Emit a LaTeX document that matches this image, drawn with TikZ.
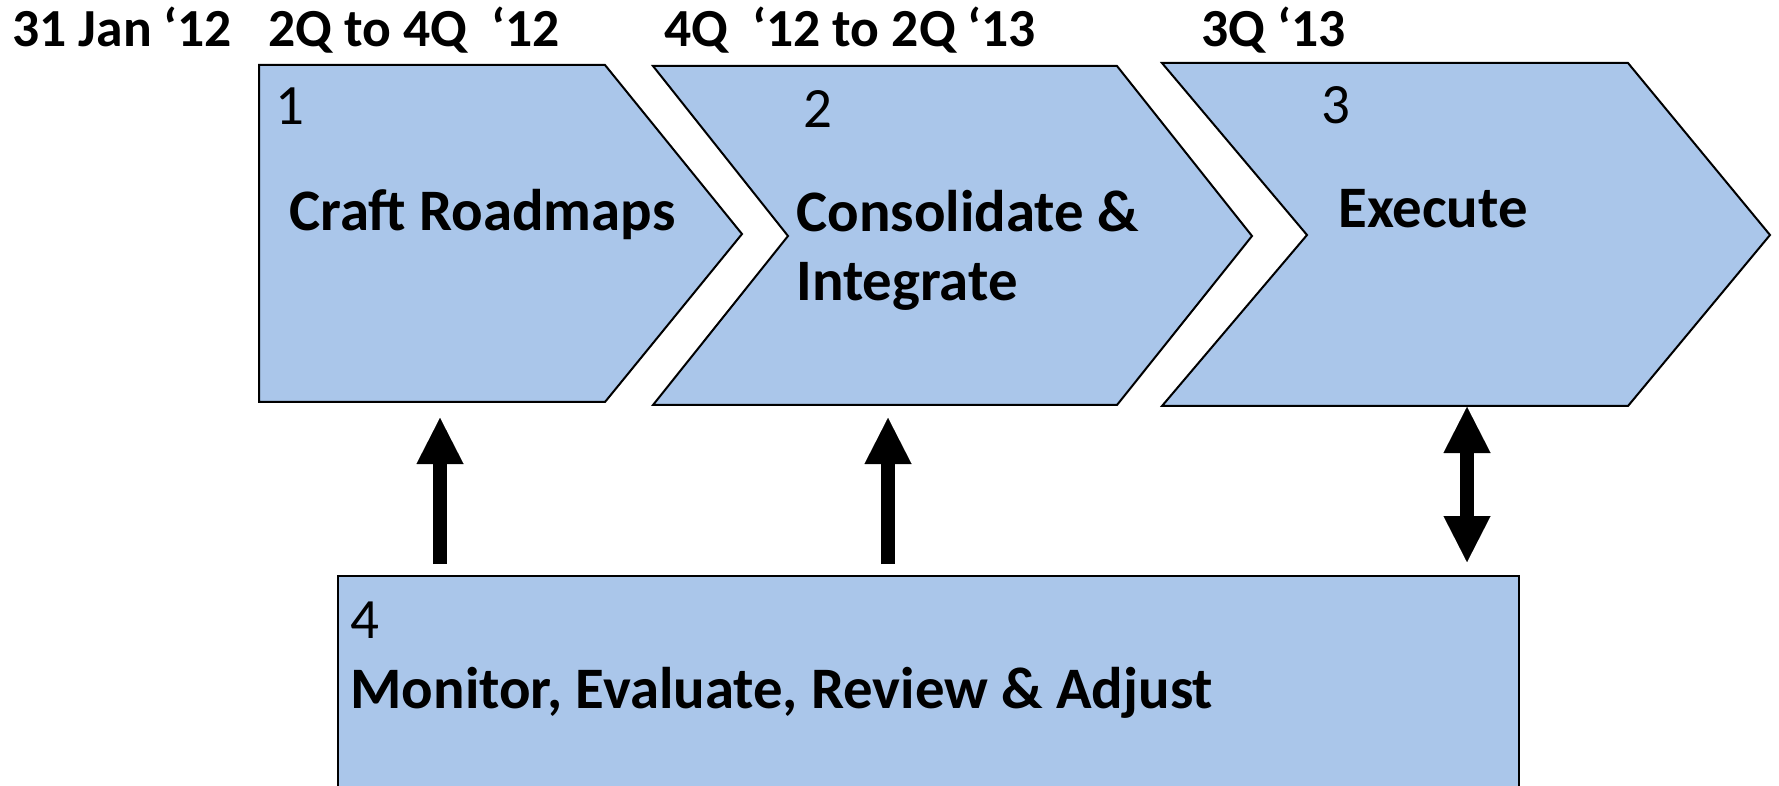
\documentclass[tikz,border=0pt]{standalone}
\usepackage{fontspec}
\setmainfont{Carlito}
\usetikzlibrary{arrows.meta}
\definecolor{boxblue}{RGB}{170,198,234}
\tikzset{
  chev/.style={draw=black, fill=boxblue, line width=1pt, line join=miter},
  datelbl/.style={anchor=base west, inner sep=0pt, font=\fontsize{26.8}{32}\selectfont\bfseries},
  numlbl/.style={anchor=base west, inner sep=0pt, font=\fontsize{28.5}{34}\selectfont},
  titlelbl/.style={anchor=base west, inner sep=0pt, align=left, font=\fontsize{29.4}{35}\selectfont\bfseries},
  bigarrow/.style={line width=7pt, -{Triangle[width=23.5pt,length=23pt,line width=0.01pt]}},
  dblarrow/.style={line width=7pt, {Triangle[width=23.5pt,length=23pt,line width=0.01pt]}-{Triangle[width=23.5pt,length=23pt,line width=0.01pt]}}
}
\begin{document}
\begin{tikzpicture}[x=0.5pt,y=-0.5pt]
\useasboundingbox (0,0) rectangle (1779,786);
% chevrons
\draw[chev] (259,65) -- (605,65) -- (742,234) -- (605,402) -- (259,402) -- cycle;
\draw[chev] (653,66) -- (1117,66) -- (1252,236) -- (1117,405) -- (653,405) -- (788,236) -- cycle;
\draw[chev] (1162,63) -- (1628,63) -- (1770,235) -- (1628,406) -- (1162,406) -- (1307,235) -- cycle;
% bottom box
\node[chev, anchor=north west, minimum width=590.5pt, minimum height=120pt, inner sep=0pt] (b4) at (337,575) {};
% connection points
\coordinate (b1s) at (440,402);
\coordinate (b2s) at (888,405);
\coordinate (b3s) at (1467,406);
\coordinate (b4a) at (440,575);
\coordinate (b4b) at (888,575);
\coordinate (b4c) at (1467,575);
% dates
\node[datelbl] (d0) at (12,47) {31 Jan `12};
\node[datelbl] (d1) at (268,47) {2Q to 4Q~~`12};
\node[datelbl] (d2) at (664,47) {4Q~~`12 to 2Q `13};
\node[datelbl] (d3) at (1201,47) {3Q `13};
% numbers
\node[numlbl] (n1) at (275,125) {1};
\node[numlbl] (n2) at (803,128) {2};
\node[numlbl] (n3) at (1321,124) {3};
\node[numlbl] (n4) at (350,638) {4};
% titles
\node[titlelbl] (t1) at (289,231) {Craft Roadmaps};
\node[titlelbl] (t2) at (796,301) {Consolidate \&\\Integrate};
\node[titlelbl] (t3) at (1338,228) {Execute};
\node[titlelbl] (t4) at (350,708) {Monitor, Evaluate, Review \& Adjust};
% arrows
\draw[bigarrow, shorten <=5.5pt, shorten >=8pt] (b4a) -- (b1s);
\draw[bigarrow, shorten <=5.5pt, shorten >=6.5pt] (b4b) -- (b2s);
\draw[dblarrow, shorten <=0.5pt, shorten >=6.5pt] (b3s) -- (b4c);
\end{tikzpicture}
\end{document}
